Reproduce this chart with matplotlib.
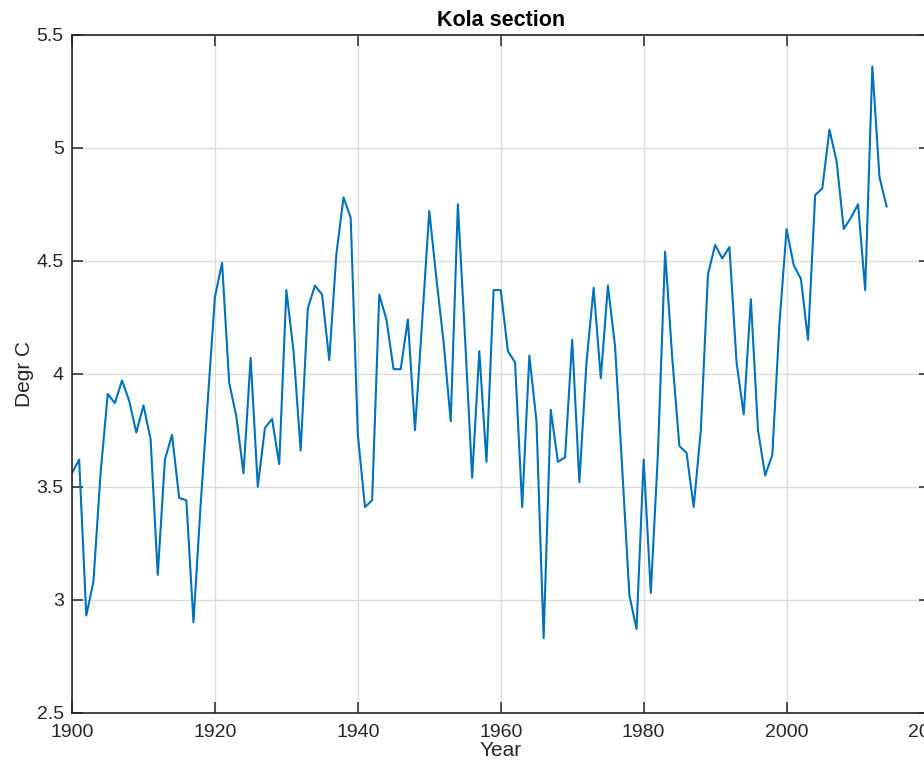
import matplotlib
matplotlib.use("Agg")
import matplotlib.pyplot as plt
from matplotlib.ticker import FormatStrFormatter, MultipleLocator

years = list(range(1900, 2015))
temps = [3.56, 3.62, 2.93, 3.08, 3.56, 3.91, 3.87, 3.97, 3.88, 3.74,
         3.86, 3.71, 3.11, 3.62, 3.73, 3.45, 3.44, 2.90, 3.42, 3.88,
         4.34, 4.49, 3.96, 3.81, 3.56, 4.07, 3.50, 3.76, 3.80, 3.60,
         4.37, 4.10, 3.66, 4.29, 4.39, 4.35, 4.06, 4.53, 4.78, 4.69,
         3.73, 3.41, 3.44, 4.35, 4.24, 4.02, 4.02, 4.24, 3.75, 4.23,
         4.72, 4.42, 4.14, 3.79, 4.75, 4.16, 3.54, 4.10, 3.61, 4.37,
         4.37, 4.10, 4.05, 3.41, 4.08, 3.79, 2.83, 3.84, 3.61, 3.63,
         4.15, 3.52, 4.05, 4.38, 3.98, 4.39, 4.12, 3.58, 3.02, 2.87,
         3.62, 3.03, 3.65, 4.54, 4.07, 3.68, 3.65, 3.41, 3.75, 4.44,
         4.57, 4.51, 4.56, 4.05, 3.82, 4.33, 3.75, 3.55, 3.64, 4.22,
         4.64, 4.48, 4.42, 4.15, 4.79, 4.82, 5.08, 4.94, 4.64, 4.69,
         4.75, 4.37, 5.36, 4.87, 4.74]

plt.rcParams['font.family'] = ['Liberation Sans', 'DejaVu Sans']

fig = plt.figure(figsize=(9.24, 7.6), dpi=100)
ax = fig.add_axes([72 / 924, 47.3 / 760, 857.5 / 924, 678 / 760])

ax.plot(years, temps, color='#0072BD', linewidth=1.5)

ax.set_xlim(1900, 2020)
ax.set_ylim(2.5, 5.5)
ax.xaxis.set_major_locator(MultipleLocator(20))
ax.yaxis.set_major_locator(MultipleLocator(0.5))
ax.yaxis.set_major_formatter(FormatStrFormatter('%g'))

ax.grid(True, color='#dcdcdc', linewidth=1.0)
ax.set_axisbelow(True)
for s in ax.spines.values():
    s.set_color('#262626')
    s.set_linewidth(1.2)
ax.tick_params(direction='in', top=True, right=True, length=8, width=1.1,
               color='#262626', labelsize=14, labelcolor='#262626', pad=6)
ax.tick_params(axis='x', pad=8)

ax.set_title('Kola section', fontsize=15.5, fontweight='bold', pad=6)
ax.set_xlabel('Year', fontsize=15, color='#262626', labelpad=0)
ax.set_ylabel('Degr C', fontsize=15, color='#262626', labelpad=2)

fig.savefig('out.png', dpi=100)
